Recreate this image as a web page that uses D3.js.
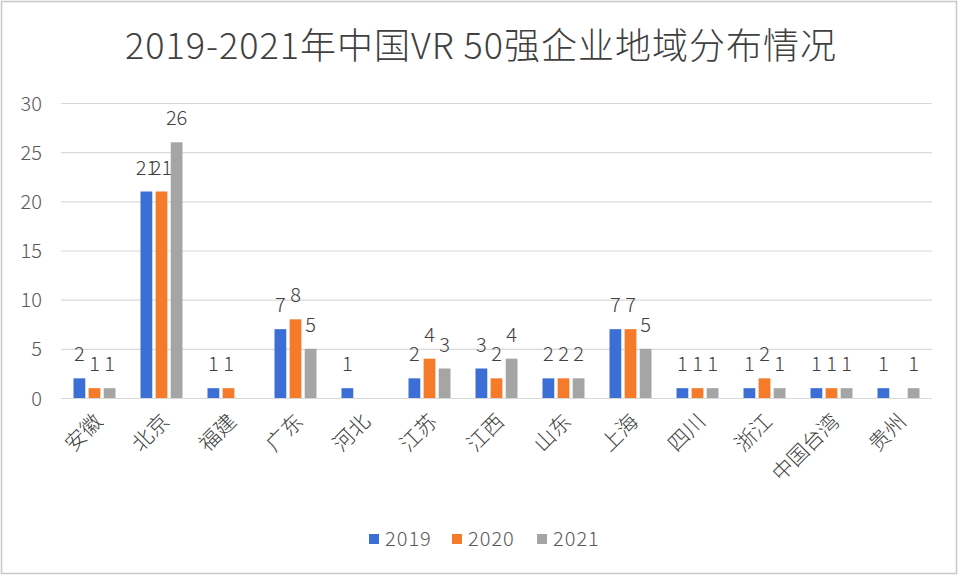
<!DOCTYPE html>
<html><head><meta charset="utf-8">
<script src="https://cdn.jsdelivr.net/npm/d3@7"></script>
<style>body{margin:0;background:#fff}svg{display:block}text{font-family:"Noto Sans CJK SC","Noto Sans",sans-serif}</style>
</head><body><svg id="c" width="960" height="576"></svg>
<script>
const categories = ["安徽","北京","福建","广东","河北","江苏","江西","山东","上海","四川","浙江","中国台湾","贵州"];
const series = ["2019","2020","2021"];
const v2019 = [2,21,1,7,1,2,3,2,7,1,1,1,1];
const v2020 = [1,21,1,8,0,4,2,2,7,1,2,1,0];
const v2021 = [1,26,0,5,0,3,4,2,5,1,1,1,1];
const yTicks = [0,5,10,15,20,25,30];
const title = "2019-2021年中国VR 50强企业地域分布情况";
const colors = ["#3c6fd6","#f57b2b","#a5a5a5"];
const values = [v2019, v2020, v2021];

const svg = d3.select("#c");
svg.append("rect").attr("x",1.5).attr("y",1.5).attr("width",955).attr("height",572)
  .attr("fill","#fff").attr("stroke","#c8c8c8").attr("stroke-width",1.5);

const m = {left:61, right:28, top:103, bottom:178};
const W = 960, H = 576;
const x = d3.scaleBand().domain(categories).range([m.left, W-m.right]).paddingInner(0).paddingOuter(0);
const x1 = d3.scaleBand().domain(series).range([x.bandwidth()/2-21, x.bandwidth()/2+21]).paddingInner(0.22);
const y = d3.scaleLinear().domain([0,30]).range([H-m.bottom, m.top]);

// grid
svg.append("g").selectAll("line").data(yTicks).join("line")
  .attr("x1",m.left).attr("x2",W-m.right)
  .attr("y1",d=>y(d)+0.5).attr("y2",d=>y(d)+0.5)
  .attr("stroke","#d9d9d9").attr("stroke-width",1.2);

// y axis labels
const ya = svg.append("g").attr("transform",`translate(${m.left-19},0)`)
  .call(d3.axisLeft(y).tickValues(yTicks).tickSize(0).tickPadding(0));
ya.select(".domain").remove();
ya.selectAll("text").attr("font-size",20).attr("font-weight",300).attr("fill","#595959").attr("dy","0.35em");

// bars
const groups = svg.append("g").selectAll("g").data(categories).join("g")
  .attr("transform",d=>`translate(${x(d)},0)`);
series.forEach((s,si)=>{
  groups.append("rect")
    .attr("x",x1(s)).attr("width",x1.bandwidth())
    .attr("y",(d,i)=>y(values[si][i])).attr("height",(d,i)=>y(0)-y(values[si][i]))
    .attr("fill",colors[si]);
  groups.filter((d,i)=>values[si][i]>0).append("text")
    .attr("x",x1(s)+x1.bandwidth()/2)
    .attr("y",d=>y(values[si][categories.indexOf(d)])-17)
    .attr("text-anchor","middle").attr("font-size",20).attr("font-weight",300).attr("fill","#404040")
    .text(d=>values[si][categories.indexOf(d)]);
});

// x axis labels
const xa = svg.append("g").attr("transform",`translate(0,${y(0)})`)
  .call(d3.axisBottom(x).tickSize(0).tickPadding(0));
xa.select(".domain").remove();
xa.selectAll("text").attr("font-size",21).attr("font-weight",300).attr("fill","#404040")
  .attr("text-anchor","end").attr("dy",0)
  .attr("transform","translate(9,25) rotate(-45)");

// title
svg.append("text").attr("x",481).attr("y",59).attr("text-anchor","middle")
  .attr("font-size",36).attr("font-weight",300).attr("letter-spacing",1).attr("fill","#404040").text(title);

// legend
const lg = svg.append("g").attr("transform","translate(369,539)");
const lx = [0,83,168];
series.forEach((s,i)=>{
  const g = lg.append("g").attr("transform",`translate(${lx[i]},0)`);
  g.append("rect").attr("x",0).attr("y",-5).attr("width",10).attr("height",10).attr("fill",colors[i]);
  g.append("text").attr("x",16).attr("y",0).attr("dy","0.35em").attr("font-size",20).attr("font-weight",300)
    .attr("letter-spacing",1).attr("fill","#595959").text(s);
});
</script></body></html>
